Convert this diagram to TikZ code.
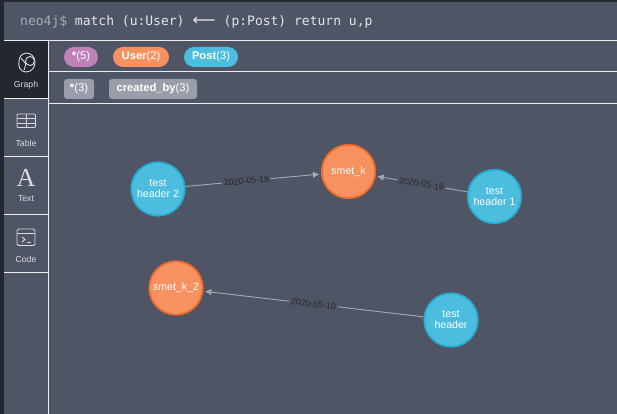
\documentclass[tikz,border=0pt]{standalone}
\usepackage{fontspec}
\setmainfont{Liberation Sans}
\newfontfamily\promptfont{DejaVu Sans Mono}
\newfontfamily\arrowfont{DejaVu Sans}
\definecolor{bgc}{HTML}{4F5565}
\definecolor{darkc}{HTML}{24272D}
\definecolor{linec}{HTML}{EDEEF0}
\definecolor{iconc}{HTML}{D8DADF}
\definecolor{orangef}{HTML}{F79260}
\definecolor{oranged}{HTML}{F36924}
\definecolor{bluef}{HTML}{4CBDDF}
\definecolor{blued}{HTML}{23AFD4}
\definecolor{pinkc}{HTML}{C080B8}
\definecolor{greyc}{HTML}{9A9EAA}
\definecolor{edgec}{HTML}{A5A9B4}
\definecolor{promptc}{HTML}{A9ADB8}
\definecolor{cmdc}{HTML}{E4E6EA}
\tikzset{
  x=1pt,y=-1pt,
  rule/.style={draw=linec,line width=1pt},
  pill/.style={rounded corners=10pt,inner sep=0pt,anchor=center,minimum height=20pt,text=white,font=\fontsize{11.2pt}{12pt}\selectfont},
  tag/.style={rounded corners=3pt,inner sep=0pt,anchor=center,minimum height=20pt,fill=greyc,text=white,font=\fontsize{11.2pt}{12pt}\selectfont},
  usernode/.style={circle,draw=oranged,fill=orangef,line width=1.7pt,minimum size=53.5pt,inner sep=0pt,text=white,align=center,font=\fontsize{10.6pt}{11pt}\selectfont},
  postnode/.style={circle,draw=blued,fill=bluef,line width=1.7pt,minimum size=53.5pt,inner sep=0pt,text=white,align=center,font=\fontsize{10.6pt}{11pt}\selectfont},
  rel/.style={draw=edgec,line width=0.9pt,-{Latex[length=6.5pt,width=6.5pt]},shorten >=1.5pt},
  rellabel/.style={sloped,fill=bgc,inner xsep=2pt,inner ysep=1pt,text=black!85,font=\fontsize{8.8pt}{9pt}\selectfont},
  tablabel/.style={text=iconc,inner sep=0pt,font=\fontsize{8.7pt}{9pt}\selectfont},
  icon/.style={draw=iconc,line width=0.9pt},
}
\usetikzlibrary{arrows.meta}
\begin{document}
\begin{tikzpicture}
\useasboundingbox (0,0) rectangle (617,414);
\fill[bgc] (0,0) rectangle (617,414);
\fill[darkc] (0,0) rectangle (617,2);
\fill[darkc] (0,0) rectangle (4,414);
\fill[darkc] (4,41) rectangle (48,98);
\draw[rule] (4,40.5) -- (617,40.5);
\draw[rule] (48.5,40.5) -- (48.5,414);
\draw[rule] (48.5,72) -- (617,72);
\draw[rule] (48.5,104) -- (617,104);
\draw[rule] (4,98.5) -- (48.5,98.5);
\draw[rule] (4,156) -- (48.5,156);
\draw[rule] (4,214) -- (48.5,214);
\draw[rule] (4,272) -- (48.5,272);
% prompt
\node[anchor=west,inner sep=0pt,font=\promptfont\fontsize{13pt}{14pt}\selectfont,text=cmdc] (prompt) at (20,21.5)
  {\textcolor{promptc}{neo4j\$} match (u:User) \makebox[23.5pt]{\resizebox{23pt}{!}{\arrowfont ⟵}} (p:Post) return u,p};
% chips
\node[pill,fill=pinkc,minimum width=34pt] (c1) at (81,57) {\textbf{*}(5)};
\node[pill,fill=orangef,minimum width=56pt] (c2) at (141,57) {\textbf{User}(2)};
\node[pill,fill=bluef,minimum width=54pt] (c3) at (211,57) {\textbf{Post}(3)};
\node[tag,minimum width=30pt] (t1) at (79,89) {\textbf{*}(3)};
\node[tag,minimum width=88pt] (t2) at (153,89) {\textbf{created\_by}(3)};
% sidebar: graph icon
\draw[icon] (26,53) .. controls (31,53) and (35,57) .. (35,62)
  .. controls (35,67) and (32,72) .. (26,72)
  .. controls (20,72) and (18,66) .. (19,62)
  .. controls (19,57) and (21,54) .. (26,53);
\draw[icon,fill=darkc] (30,61) circle (4.5);
\draw[icon] (21,58) -- (26,64) -- (24,70);
\node[tablabel] (l1) at (26,85) {Graph};
% table icon
\draw[icon,rounded corners=1pt] (17,114) rectangle (35.5,127.5);
\draw[icon] (17,118.5) -- (35.5,118.5) (17,123) -- (35.5,123) (26,114) -- (26,127.5);
\node[tablabel] (l2) at (26,143) {Table};
% text icon
\node[inner sep=0pt,text=iconc] (l3i) at (26,178) {\fontspec{Liberation Serif}\fontsize{26pt}{26pt}\selectfont A};
\node[tablabel] (l3) at (26,199) {Text};
% code icon
\draw[icon,rounded corners=1.5pt] (17,229) rectangle (35,245.5);
\draw[icon] (17,233.5) -- (35,233.5);
\draw[icon] (22,237) -- (25,239.5) -- (22,242);
\draw[icon] (26.5,242) -- (30.5,242);
\node[tablabel] (l4) at (26,259) {Code};
% graph
\node[postnode] (h2) at (158,189) {test\\header 2};
\node[usernode] (k1) at (348.5,171.5) {smet\_k};
\node[postnode] (h1) at (494.5,196.5) {test\\header 1};
\node[usernode] (k2) at (176,288) {smet\_k\_2};
\node[postnode] (h0) at (451,320) {test\\header};
\draw[rel] (h2) -- (k1) node[rellabel,pos=.45] {2020-05-18};
\draw[rel] (h1) -- (k1) node[rellabel,midway] {2020-05-19};
\draw[rel] (h0) -- (k2) node[rellabel,midway] {2020-05-10};
\end{tikzpicture}
\end{document}
